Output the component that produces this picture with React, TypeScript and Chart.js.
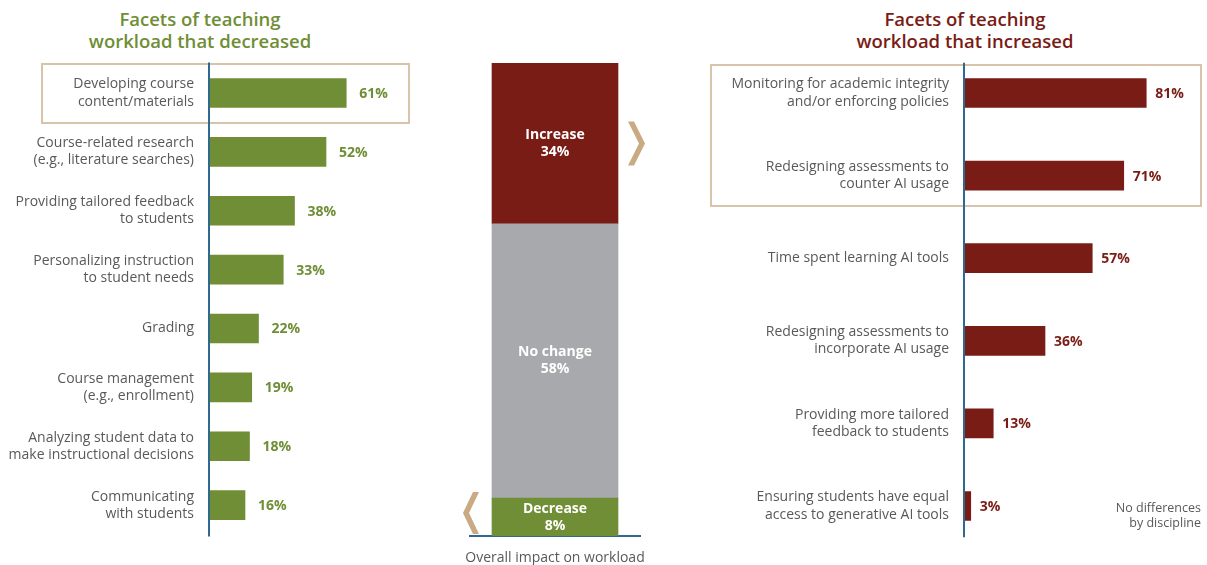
import React, { useEffect, useRef } from "react";
import { Chart, registerables } from "chart.js";

Chart.register(...registerables);

const FONT = "'Open Sans', 'DejaVu Sans', sans-serif";

// ---------- DATA ----------
const decreasedLabels: string[][] = [
  ["Developing course", "content/materials"],
  ["Course-related research", "(e.g., literature searches)"],
  ["Providing tailored feedback", "to students"],
  ["Personalizing instruction", "to student needs"],
  ["Grading"],
  ["Course management", "(e.g., enrollment)"],
  ["Analyzing student data to", "make instructional decisions"],
  ["Communicating", "with students"],
];
const decreasedValues: number[] = [61, 52, 38, 33, 22, 19, 18, 16];

const increasedLabels: string[][] = [
  ["Monitoring for academic integrity", "and/or enforcing policies"],
  ["Redesigning assessments to", "counter AI usage"],
  ["Time spent learning AI tools"],
  ["Redesigning assessments to", "incorporate AI usage"],
  ["Providing more tailored", "feedback to students"],
  ["Ensuring students have equal", "access to generative AI tools"],
];
const increasedValues: number[] = [81, 71, 57, 36, 13, 3];

const overallCategories: string[] = ["Decrease", "No change", "Increase"];
const overallValues: number[] = [8, 58, 34];

// ---------- STYLE ----------
const GREEN = "#6f8e35";
const RED = "#7a1c16";
const GRAY = "#a7a9ac";
const BLUE = "#30698f";
const TAN_BOX = "#d8c4ab";
const TAN_CHEV = "#c9aa82";
const TEXT_GRAY = "#58595b";

const valueLabelPlugin = {
  id: "valueLabels",
  afterDatasetsDraw(chart: any, _args: any, opts: any) {
    if (!opts || !opts.enabled) return;
    const ctx = chart.ctx;
    const meta = chart.getDatasetMeta(0);
    ctx.save();
    ctx.font = `bold 14px ${FONT}`;
    ctx.fillStyle = opts.color;
    ctx.textAlign = "left";
    ctx.textBaseline = "middle";
    meta.data.forEach((bar: any, i: number) => {
      const v = chart.data.datasets[0].data[i];
      ctx.fillText(v + "%", bar.x + opts.offset, bar.y + 1);
    });
    ctx.restore();
  },
};

const axisLinePlugin = {
  id: "axisLine",
  afterDatasetsDraw(chart: any, _args: any, opts: any) {
    if (!opts || !opts.enabled) return;
    const { ctx, chartArea } = chart;
    ctx.save();
    ctx.strokeStyle = BLUE;
    ctx.lineWidth = 2;
    ctx.beginPath();
    ctx.moveTo(chartArea.left, chartArea.top + opts.insetTop);
    ctx.lineTo(chartArea.left, chartArea.bottom - opts.insetBottom);
    ctx.stroke();
    ctx.restore();
  },
};

const overallPlugin = {
  id: "overallDecor",
  afterDatasetsDraw(chart: any) {
    const ctx = chart.ctx;
    ctx.save();
    ctx.font = `bold 14px ${FONT}`;
    ctx.fillStyle = "#ffffff";
    ctx.textAlign = "center";
    ctx.textBaseline = "middle";
    chart.data.datasets.forEach((ds: any, i: number) => {
      const bar: any = chart.getDatasetMeta(i).data[0];
      const cy = (bar.y + bar.base) / 2;
      ctx.fillText(ds.label, bar.x, cy - 8.5);
      ctx.fillText(ds.data[0] + "%", bar.x, cy + 8.5);
    });
    // chevrons
    ctx.fillStyle = TAN_CHEV;
    const inc: any = chart.getDatasetMeta(2).data[0];
    const dec: any = chart.getDatasetMeta(0).data[0];
    const rx = inc.x + inc.width / 2 + 10;
    const ry = (inc.y + inc.base) / 2;
    ctx.beginPath();
    ctx.moveTo(rx, ry - 22);
    ctx.lineTo(rx + 6, ry - 22);
    ctx.lineTo(rx + 17, ry);
    ctx.lineTo(rx + 6, ry + 22);
    ctx.lineTo(rx, ry + 22);
    ctx.lineTo(rx + 11, ry);
    ctx.closePath();
    ctx.fill();
    const lx = dec.x - dec.width / 2 - 13;
    const ly = (dec.y + dec.base) / 2 - 4;
    ctx.beginPath();
    ctx.moveTo(lx, ly - 21);
    ctx.lineTo(lx - 6, ly - 21);
    ctx.lineTo(lx - 16, ly);
    ctx.lineTo(lx - 6, ly + 21);
    ctx.lineTo(lx, ly + 21);
    ctx.lineTo(lx - 10, ly);
    ctx.closePath();
    ctx.fill();
    ctx.restore();
  },
};

function HBarChart(props: {
  labels: string[][];
  values: number[];
  color: string;
  left: number;
  width: number;
  axisWidth: number;
  padTop: number;
  padBottom: number;
  padRight: number;
  labelOffset: number;
  insetTop: number;
  insetBottom: number;
}) {
  const ref = useRef<HTMLCanvasElement>(null);
  useEffect(() => {
    if (!ref.current) return;
    const chart = new Chart(ref.current, {
      type: "bar",
      data: {
        labels: props.labels,
        datasets: [
          {
            data: props.values,
            backgroundColor: props.color,
            borderWidth: 0,
            barThickness: 29,
          },
        ],
      },
      plugins: [valueLabelPlugin, axisLinePlugin],
      options: {
        indexAxis: "y",
        animation: false,
        responsive: false,
        maintainAspectRatio: false,
        layout: {
          padding: { top: props.padTop, bottom: props.padBottom, left: 0, right: props.padRight },
        },
        scales: {
          x: { display: false, min: 0, max: 100 },
          y: {
            afterFit: (scale: any) => {
              scale.width = props.axisWidth;
              scale.paddingTop = 0;
              scale.paddingBottom = 0;
            },
            grid: { display: false, drawTicks: false },
            border: { display: false },
            ticks: {
              padding: 15,
              color: TEXT_GRAY,
              font: { family: FONT, size: 14, lineHeight: 1.22 },
            },
          },
        },
        plugins: {
          legend: { display: false },
          tooltip: { enabled: false },
          valueLabels: { enabled: true, color: props.color, offset: props.labelOffset },
          axisLine: { enabled: true, insetTop: props.insetTop, insetBottom: props.insetBottom },
        } as any,
      },
    });
    return () => chart.destroy();
  }, []);
  return (
    <canvas
      ref={ref}
      width={props.width}
      height={565}
      style={{ position: "absolute", left: props.left, top: 0, width: props.width, height: 565 }}
    />
  );
}

function OverallChart() {
  const ref = useRef<HTMLCanvasElement>(null);
  useEffect(() => {
    if (!ref.current) return;
    const colors = [GREEN, GRAY, RED];
    const chart = new Chart(ref.current, {
      type: "bar",
      data: {
        labels: ["Overall"],
        datasets: overallCategories.map((c, i) => ({
          label: c,
          data: [overallValues[i]],
          backgroundColor: colors[i],
          borderWidth: 0,
          barThickness: 126,
        })),
      },
      plugins: [overallPlugin],
      options: {
        animation: false,
        responsive: false,
        maintainAspectRatio: false,
        layout: { padding: { top: 63, bottom: 29, left: 30, right: 30 } },
        scales: {
          x: {
            stacked: true,
            grid: { display: false, drawTicks: false },
            ticks: { display: false },
            border: { display: true, color: BLUE, width: 2 },
          },
          y: { stacked: true, display: false, min: 0, max: 100 },
        },
        plugins: { legend: { display: false }, tooltip: { enabled: false } },
      },
    });
    return () => chart.destroy();
  }, []);
  return (
    <canvas
      ref={ref}
      width={230}
      height={565}
      style={{ position: "absolute", left: 440, top: 0, width: 230, height: 565 }}
    />
  );
}

export default function App() {
  useEffect(() => {
    document.body.style.margin = "0";
  }, []);
  const titleStyle: React.CSSProperties = {
    position: "absolute",
    top: 8,
    width: 400,
    textAlign: "center",
    fontFamily: FONT,
    fontWeight: 600,
    fontSize: 18.5,
    lineHeight: "22px",
  };
  return (
    <div
      style={{
        position: "absolute",
        left: 0,
        top: 0,
        width: 1207,
        height: 565,
        background: "#ffffff",
        overflow: "hidden",
        fontFamily: FONT,
      }}
    >
      <div style={{ ...titleStyle, left: 0, color: GREEN }}>
        Facets of teaching
        <br />
        workload that decreased
      </div>
      <div style={{ ...titleStyle, left: 765, color: RED }}>
        Facets of teaching
        <br />
        workload that increased
      </div>
      <div
        style={{
          position: "absolute",
          left: 41,
          top: 63,
          width: 369,
          height: 61,
          border: `2px solid ${TAN_BOX}`,
          boxSizing: "border-box",
        }}
      />
      <div
        style={{
          position: "absolute",
          left: 710,
          top: 64,
          width: 492,
          height: 143,
          border: `2px solid ${TAN_BOX}`,
          boxSizing: "border-box",
        }}
      />
      <HBarChart
        labels={decreasedLabels}
        values={decreasedValues}
        color={GREEN}
        left={0}
        width={440}
        axisWidth={209}
        padTop={63.6}
        padBottom={30.5}
        padRight={6}
        labelOffset={13}
        insetTop={-1}
        insetBottom={-2}
      />
      <OverallChart />
      <HBarChart
        labels={increasedLabels}
        values={increasedValues}
        color={RED}
        left={700}
        width={507}
        axisWidth={264}
        padTop={51.7}
        padBottom={17.7}
        padRight={18}
        labelOffset={9}
        insetTop={11}
        insetBottom={10}
      />
      <div
        style={{
          position: "absolute",
          left: 455,
          top: 548,
          width: 200,
          textAlign: "center",
          fontSize: 14,
          lineHeight: "18px",
          color: TEXT_GRAY,
        }}
      >
        Overall impact on workload
      </div>
      <div
        style={{
          position: "absolute",
          left: 1070,
          top: 500,
          width: 131,
          textAlign: "right",
          fontSize: 12.5,
          lineHeight: "15px",
          color: TEXT_GRAY,
        }}
      >
        No differences
        <br />
        by discipline
      </div>
    </div>
  );
}
